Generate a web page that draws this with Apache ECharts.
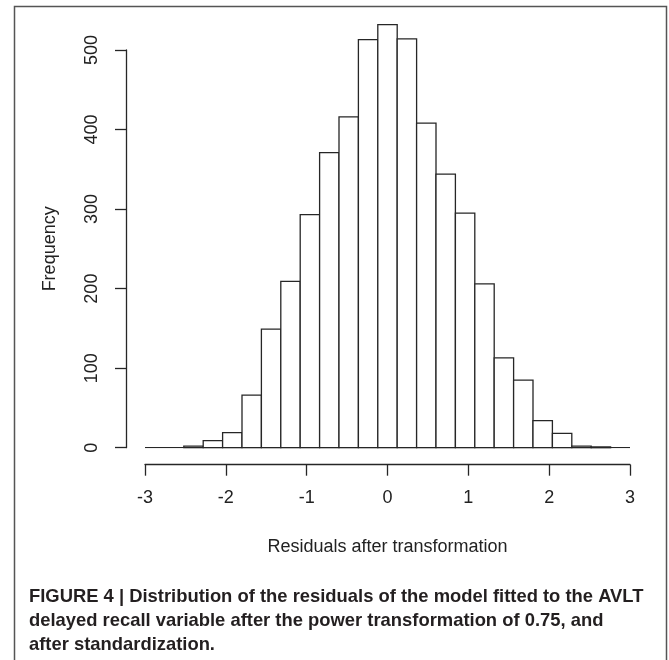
<!DOCTYPE html>
<html>
<head>
<meta charset="utf-8">
<script src="https://cdn.jsdelivr.net/npm/echarts@6/dist/echarts.min.js"></script>
<style>
html,body{margin:0;padding:0;background:#fff;}
#c{width:669px;height:660px;}
</style>
</head>
<body>
<div id="c"></div>
<script>
// Histogram bin edges (data units) and counts
var binEdges = [-2.52,-2.28,-2.04,-1.80,-1.56,-1.32,-1.08,-0.84,-0.60,-0.36,-0.12,0.12,0.36,0.60,0.84,1.08,1.32,1.56,1.80,2.04,2.28,2.52,2.76];
var counts = [2,9,19,66,149,209,293,371,416,513,532,514,408,344,295,206,113,85,34,18,2,1];
var baselineRange = [-3, 3];
var xRange = [-3, 3];
var yRange = [0, 500];
var xTitle = 'Residuals after transformation';
var yTitle = 'Frequency';
var captionLines = [
  'FIGURE 4 | Distribution of the residuals of the model fitted to the AVLT',
  'delayed recall variable after the power transformation of 0.75, and',
  'after standardization.'
];

var barData = counts.map(function (c, i) { return [binEdges[i], binEdges[i + 1], c]; });

var chart = echarts.init(document.getElementById('c'), null, {renderer: 'canvas'});
var FONT = '"Liberation Sans", Arial, Helvetica, sans-serif';
var CAPFONT = '"Liberation Sans Narrow", "Arial Narrow", "Liberation Sans", Arial, sans-serif';
var ink = '#262626';

var graphics = [{
  type: 'rect',
  shape: {x: 14.5, y: 6.5, width: 652, height: 720},
  style: {fill: 'none', stroke: '#555', lineWidth: 1.5},
  silent: true
}];
captionLines.forEach(function (t, i) {
  graphics.push({
    type: 'text',
    left: 29,
    top: 588 + i * 24,
    style: {text: t, font: 'bold 18.4px ' + CAPFONT, fill: '#231f20'}
  });
});

chart.setOption({
  backgroundColor: '#fff',
  animation: false,
  grid: {left: 145, right: 39, top: 50, bottom: 212.3, containLabel: false},
  xAxis: {
    type: 'value', min: xRange[0], max: xRange[1], interval: 1,
    offset: 17,
    axisLine: {show: true, onZero: false, lineStyle: {color: ink, width: 1.3}},
    axisTick: {show: true, length: 11, lineStyle: {color: ink, width: 1.3}},
    axisLabel: {margin: 24, fontSize: 18, color: '#222', fontFamily: FONT},
    splitLine: {show: false},
    name: xTitle, nameLocation: 'middle', nameGap: 73,
    nameTextStyle: {fontSize: 18, color: '#222', fontFamily: FONT}
  },
  yAxis: {
    type: 'value', min: yRange[0], max: yRange[1], interval: 100,
    offset: 19,
    axisLine: {show: true, onZero: false, lineStyle: {color: ink, width: 1.3}},
    axisTick: {show: true, length: 11, lineStyle: {color: ink, width: 1.3}},
    axisLabel: {margin: 25, fontSize: 18, color: '#222', fontFamily: FONT, rotate: 90, align: 'center', verticalAlign: 'bottom'},
    splitLine: {show: false},
    name: yTitle, nameLocation: 'middle', nameGap: 67, nameRotate: 90,
    nameTextStyle: {fontSize: 18, color: '#222', fontFamily: FONT}
  },
  graphic: graphics,
  series: [{
    type: 'line',
    data: [[baselineRange[0], 0], [baselineRange[1], 0]],
    symbol: 'none',
    lineStyle: {color: ink, width: 1.3},
    silent: true,
    z: 1
  }, {
    type: 'custom',
    clip: false,
    data: barData,
    encode: {x: [0, 1], y: 2},
    renderItem: function (params, api) {
      var p0 = api.coord([api.value(0), 0]);
      var p1 = api.coord([api.value(1), api.value(2)]);
      return {
        type: 'rect',
        shape: {x: p0[0], y: p1[1], width: p1[0] - p0[0], height: p0[1] - p1[1]},
        style: {fill: '#fff', stroke: ink, lineWidth: 1.3}
      };
    },
    z: 2
  }]
});
</script>
</body>
</html>
